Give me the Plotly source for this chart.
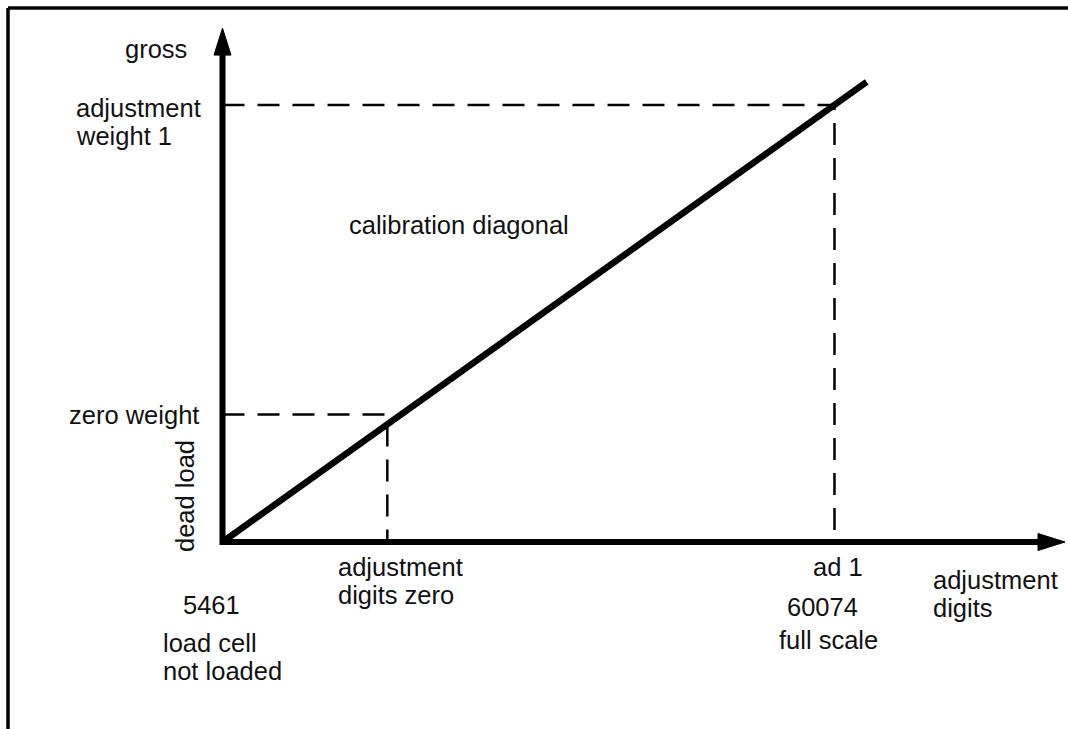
import plotly.graph_objects as go

# ---------------- data ----------------
# calibration points: dead load (load cell not loaded), zero digits, ad 1 (full scale)
point_names = ["dead load", "adjustment digits zero", "ad 1"]
point_digits = [5461, 20170, 60074]
point_gross = [0, 29.2, 100]          # dead load, zero weight, adjustment weight 1

# calibration diagonal (start / end)
diag_digits = [5461, 62950]
diag_gross = [0, 105.3]

# axis extents (arrow tips)
axis_digits_end = 80645
axis_gross_end = 117.6

# ---------------- layout constants ----------------
W, H = 1068, 729
X_RANGE = [-14395, 80913]
Y_RANGE = [-42.79, 124.03]
FONT = "Liberation Sans, Arial, Helvetica, sans-serif"
FS = 25.5
TXT = "#111111"
INK = "#000000"

xpp = (X_RANGE[1] - X_RANGE[0]) / W   # data units per pixel
ypp = (Y_RANGE[1] - Y_RANGE[0]) / H
ARROW_LEN = 27
ARROW_HALF = 8.5

fig = go.Figure()

# dashed guide lines to the calibration points
for i in (1, 2):
    fig.add_trace(go.Scatter(
        x=[point_digits[0], point_digits[i], point_digits[i]],
        y=[point_gross[i], point_gross[i], point_gross[0]],
        mode="lines", line=dict(color=INK, width=2.5, dash="22px,13px"),
        hoverinfo="skip"))

# calibration diagonal
fig.add_trace(go.Scatter(x=diag_digits, y=diag_gross, mode="lines",
                         line=dict(color=INK, width=6.5), hoverinfo="skip"))

# axes (one polyline so the corner is square)
x0, y0 = point_digits[0], point_gross[0]
x_base = axis_digits_end - ARROW_LEN * xpp
y_base = axis_gross_end - ARROW_LEN * ypp
fig.add_trace(go.Scatter(x=[x_base, x0, x0], y=[y0, y0, y_base], mode="lines",
                         line=dict(color=INK, width=6), hoverinfo="skip"))

# arrow heads
fig.add_trace(go.Scatter(
    x=[x_base, axis_digits_end, x_base, x_base],
    y=[y0 + ARROW_HALF * ypp, y0, y0 - ARROW_HALF * ypp, y0 + ARROW_HALF * ypp],
    mode="lines", fill="toself", fillcolor=INK, line=dict(color=INK, width=1),
    hoverinfo="skip"))
fig.add_trace(go.Scatter(
    x=[x0 - ARROW_HALF * xpp, x0, x0 + ARROW_HALF * xpp, x0 - ARROW_HALF * xpp],
    y=[y_base, axis_gross_end, y_base, y_base],
    mode="lines", fill="toself", fillcolor=INK, line=dict(color=INK, width=1),
    hoverinfo="skip"))


def px(x):
    return x / W


def py(y):
    return 1 - y / H


def label(text, x, y, xanchor="center", angle=0):
    fig.add_annotation(text=text, x=px(x), y=py(y), xref="paper", yref="paper",
                       xanchor=xanchor, yanchor="middle", showarrow=False,
                       textangle=angle, font=dict(family=FONT, size=FS, color=TXT))


label("gross", 156, 49)
label("adjustment", 74, 108, "left")
label("weight 1", 74, 136, "left")
label("zero weight", 201, 415, "right")
label("dead load", 185, 496, angle=-90)
label("calibration diagonal", 347, 225, "left")
label("adjustment", 336, 567, "left")
label("digits zero", 336, 595, "left")
label("ad 1", 838, 567)
label("5461", 211, 605)
label("60074", 822, 607)
label("load cell", 161, 643, "left")
label("not loaded", 161, 671, "left")
label("full scale", 828, 640)
label("adjustment", 931, 580, "left")
label("digits", 931, 608, "left")

# picture frame (top and left edges)
fig.add_shape(type="line", xref="paper", yref="paper", x0=px(8), x1=1.01,
              y0=py(8), y1=py(8), line=dict(color=INK, width=3.5))
fig.add_shape(type="line", xref="paper", yref="paper", x0=px(8), x1=px(8),
              y0=py(8), y1=-0.01, line=dict(color=INK, width=3.5))

fig.update_layout(
    width=W, height=H, margin=dict(l=0, r=0, t=0, b=0),
    paper_bgcolor="white", plot_bgcolor="white", showlegend=False,
    xaxis=dict(range=X_RANGE, visible=False, fixedrange=True),
    yaxis=dict(range=Y_RANGE, visible=False, fixedrange=True),
)

fig.write_html("out.html", config={"displayModeBar": False},
               post_script="document.body.style.margin='0';document.body.style.overflow='hidden';")
